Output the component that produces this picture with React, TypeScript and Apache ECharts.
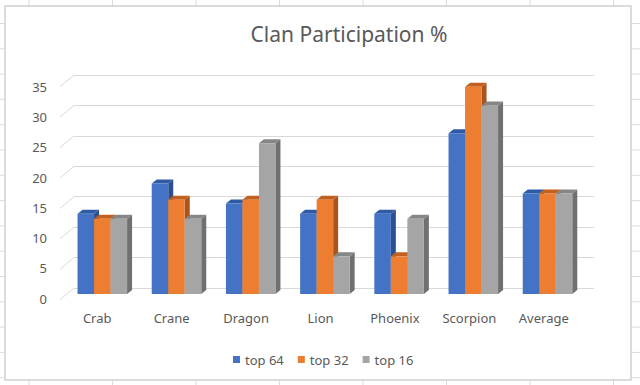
import React, { useEffect, useRef } from "react";
import * as echarts from "echarts";

const categories = ["Crab", "Crane", "Dragon", "Lion", "Phoenix", "Scorpion", "Average"];
const top64 = [13.33, 18.33, 15.0, 13.33, 13.33, 26.67, 16.67];
const top32 = [12.5, 15.63, 15.63, 15.63, 6.25, 34.38, 16.67];
const top16 = [12.5, 12.5, 25.0, 6.25, 12.5, 31.25, 16.67];
const seriesNames = ["top 64", "top 32", "top 16"];
const yTicks = [0, 5, 10, 15, 20, 25, 30, 35];
const Y_MIN = 0;
const Y_MAX = 35;
const Y_INTERVAL = 5;

const FONT = "Noto Sans";
const TEXT = "#595959";
const GRIDC = "#d9d9d9";
const SHEET = "#dcdcdc";

const palette = [
  { front: "#4472C4", top: "#2E5AA6", side: "#2C4F8E" },
  { front: "#ED7D31", top: "#C1601F", side: "#A9541F" },
  { front: "#A5A5A5", top: "#868686", side: "#707070" },
];

const DX = 5;
const DY = -4;
const BAR_RATIO = 0.2225;

const FRAME = { x: 5, y: 6, w: 626, h: 374 };

function barRender(idx: number) {
  const c = palette[idx];
  return (params: any, api: any) => {
    const ci = api.value(0);
    const v = api.value(1);
    const tp = api.coord([ci, v]);
    const bs = api.coord([ci, 0]);
    const band = api.size([1, 0])[0];
    const w = band * BAR_RATIO;
    const x = tp[0] + (idx - 1.5) * w;
    const yt = tp[1];
    const yb = bs[1];
    return {
      type: "group",
      children: [
        {
          type: "polygon",
          shape: { points: [[x + w, yt], [x + w + DX, yt + DY], [x + w + DX, yb + DY], [x + w, yb]] },
          style: { fill: c.side },
        },
        {
          type: "polygon",
          shape: { points: [[x, yt], [x + w, yt], [x + w + DX, yt + DY], [x + DX, yt + DY]] },
          style: { fill: c.top },
        },
        {
          type: "rect",
          shape: { x, y: yt, width: w, height: yb - yt },
          style: { fill: c.front },
        },
      ],
    };
  };
}

function sheetLines() {
  const els: any[] = [];
  const st = { stroke: SHEET, lineWidth: 1 };
  const fx2 = FRAME.x + FRAME.w;
  const fy2 = FRAME.y + FRAME.h;
  for (let x = 29; x < 640; x += 83.5) {
    if (x > FRAME.x && x < fx2) {
      els.push({ type: "line", shape: { x1: x, y1: 0, x2: x, y2: FRAME.y }, style: st });
      els.push({ type: "line", shape: { x1: x, y1: fy2, x2: x, y2: 385 }, style: st });
    } else {
      els.push({ type: "line", shape: { x1: x, y1: 0, x2: x, y2: 385 }, style: st });
    }
  }
  for (let y = 23.5; y < 385; y += 25.3) {
    if (y > FRAME.y && y < fy2) {
      els.push({ type: "line", shape: { x1: 0, y1: y, x2: FRAME.x, y2: y }, style: st });
      els.push({ type: "line", shape: { x1: fx2, y1: y, x2: 640, y2: y }, style: st });
    } else {
      els.push({ type: "line", shape: { x1: 0, y1: y, x2: 640, y2: y }, style: st });
    }
  }
  return els;
}

export default function App() {
  const ref = useRef<HTMLDivElement>(null);
  useEffect(() => {
    document.body.style.margin = "0";
    const chart = echarts.init(ref.current!, undefined, { renderer: "svg" });
    const seriesData = [top64, top32, top16];
    const option: any = {
      animation: false,
      backgroundColor: "#ffffff",
      textStyle: { fontFamily: FONT },
      graphic: [
        ...sheetLines(),
        {
          type: "rect",
          shape: { x: FRAME.x, y: FRAME.y, width: FRAME.w, height: FRAME.h },
          style: { fill: "none", stroke: "#cfcfcf", lineWidth: 1.5 },
        },
        {
          type: "text",
          x: 349,
          y: 34,
          style: {
            text: "Clan Participation %",
            fontSize: 21,
            fontFamily: FONT,
            fill: TEXT,
            align: "center",
            verticalAlign: "middle",
          },
        },
      ],
      grid: [
        { left: 74, top: 75, width: 520, height: 213 },
        { left: 60, top: 86.7, width: 521, height: 212 },
        { left: 65.2, top: 83, width: 519.4, height: 211 },
      ],
      xAxis: [
        { gridIndex: 0, type: "category", data: categories, show: false },
        {
          gridIndex: 1,
          type: "category",
          data: categories,
          axisLine: { show: false },
          axisTick: { show: false },
          axisLabel: { color: TEXT, fontSize: 13, fontFamily: FONT, margin: 13 },
        },
        { gridIndex: 2, type: "category", data: categories, show: false },
      ],
      yAxis: [
        {
          gridIndex: 0,
          type: "value",
          min: Y_MIN,
          max: Y_MAX,
          interval: Y_INTERVAL,
          axisLabel: { show: false },
          axisLine: { show: false },
          axisTick: { show: false },
          splitLine: { show: true, lineStyle: { color: GRIDC, width: 1 } },
        },
        {
          gridIndex: 1,
          type: "value",
          min: Y_MIN,
          max: Y_MAX,
          interval: Y_INTERVAL,
          axisLabel: { color: TEXT, fontSize: 13, fontFamily: FONT, margin: 13 },
          axisLine: { show: false },
          axisTick: { show: false },
          splitLine: { show: false },
        },
        { gridIndex: 2, type: "value", min: Y_MIN, max: Y_MAX, interval: Y_INTERVAL, show: false, splitLine: { show: false } },
      ],
      legend: {
        data: seriesNames,
        left: 228,
        top: 348,
        icon: "rect",
        itemWidth: 7,
        itemHeight: 7,
        itemGap: 14,
        textStyle: { color: TEXT, fontSize: 13, fontFamily: FONT },
      },
      series: [
        {
          type: "custom",
          name: "diag",
          xAxisIndex: 0,
          yAxisIndex: 0,
          silent: true,
          data: yTicks.map((v) => [0, v]),
          encode: { x: 0, y: 1 },
          renderItem: (params: any, api: any) => {
            const p = api.coord([0, api.value(1)]);
            const x0 = params.coordSys.x;
            return {
              type: "line",
              shape: { x1: x0, y1: p[1], x2: x0 - 14, y2: p[1] + 11.7 },
              style: { stroke: GRIDC, lineWidth: 1 },
            };
          },
        },
        ...seriesData.map((arr, idx) => ({
          type: "custom",
          name: seriesNames[idx],
          xAxisIndex: 2,
          yAxisIndex: 2,
          itemStyle: { color: palette[idx].front },
          data: arr.map((v, i) => [i, v]),
          encode: { x: 0, y: 1 },
          renderItem: barRender(idx),
        })),
      ],
    };
    chart.setOption(option);
    return () => chart.dispose();
  }, []);
  return <div ref={ref} style={{ width: 640, height: 385, position: "fixed", left: 0, top: 0 }} />;
}
